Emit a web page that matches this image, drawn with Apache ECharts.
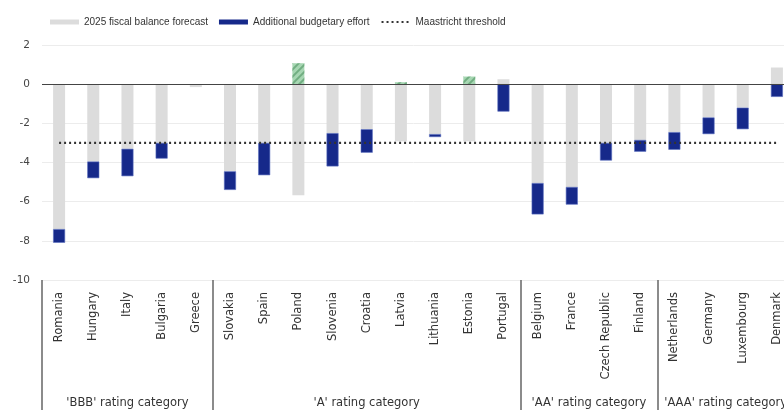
<!DOCTYPE html>
<html>
<head>
<meta charset="utf-8">
<script src="https://cdn.jsdelivr.net/npm/echarts@6/dist/echarts.min.js"></script>
<style>
html,body{margin:0;padding:0;background:#fff;}
#c{width:784px;height:410px;}
</style>
</head>
<body>
<div id="c"></div>
<script>
const countries = ['Romania','Hungary','Italy','Bulgaria','Greece','Slovakia','Spain','Poland','Slovenia','Croatia','Latvia','Lithuania','Estonia','Portugal','Belgium','France','Czech Republic','Finland','Netherlands','Germany','Luxembourg','Denmark'];
const forecast = [-7.4,-3.95,-3.3,-3.0,-0.15,-4.45,-3.0,-5.67,-2.5,-2.3,-2.92,-2.55,-2.92,0.25,-5.05,-5.25,-3.0,-2.85,-2.45,-1.7,-1.2,0.85];
const effort = [-0.7,-0.85,-1.4,-0.8,null,-0.95,-1.65,null,-1.7,-1.2,null,-0.15,null,-1.4,-1.6,-0.9,-0.9,-0.6,-0.9,-0.85,-1.1,-0.65];
const surplus = [null,null,null,null,null,null,null,1.07,null,null,0.1,null,0.39,null,null,null,null,null,null,null,null,null];
const threshold = countries.map(() => -3);
const groupNames = ["'BBB' rating category","'A' rating category","'AA' rating category","'AAA' rating category"];
const groupStarts = [0,5,14,18];
const groupEnds = [5,14,18,22];
const yTicks = {min:-10,max:2,interval:2};

const chart = echarts.init(document.getElementById('c'));
const font = 'DejaVu Sans, sans-serif';
const legendFont = 'Liberation Sans, Arial, sans-serif';
const option = {
  animation:false,
  textStyle:{fontFamily:font},
  legend:{
    top:12,left:45,itemGap:11,itemWidth:29,itemHeight:5,
    textStyle:{fontSize:10,color:'#333',fontFamily:legendFont},
    data:[
      {name:'2025 fiscal balance forecast',icon:'rect'},
      {name:'Additional budgetary effort',icon:'rect',itemStyle:{borderWidth:0}},
      {name:'Maastricht threshold',itemStyle:{opacity:0}}
    ]
  },
  grid:{left:42,width:752,top:45,height:235,outerBoundsMode:'none'},
  xAxis:{
    type:'category',data:countries,
    axisLine:{show:false,onZero:false},
    axisTick:{show:true,length:130,lineStyle:{color:'#666',width:1.5},
      interval:function(i){return groupStarts.indexOf(i)>=0;}},
    axisLabel:{rotate:90,fontSize:11.5,color:'#333',margin:12,interval:0,fontFamily:font}
  },
  yAxis:{
    type:'value',min:yTicks.min,max:yTicks.max,interval:yTicks.interval,
    axisLine:{show:false},axisTick:{show:false},
    axisLabel:{fontSize:10.5,color:'#444',margin:12,fontFamily:font},
    splitLine:{lineStyle:{color:'#ececec',width:1}}
  },
  series:[
    {name:'2025 fiscal balance forecast',type:'bar',stack:'s',barWidth:12,data:forecast,
     itemStyle:{color:'#dcdcdc'},
     markLine:{silent:true,symbol:'none',label:{show:false},
       lineStyle:{color:'#444',width:1.2,type:'solid'},data:[{yAxis:0}]}},
    {name:'Additional budgetary effort',type:'bar',stack:'s',barWidth:12,data:effort,
     itemStyle:{color:'#16298a',borderColor:'#5b6fc0',borderWidth:0.6}},
    {name:'surplus',type:'bar',stack:'s',barWidth:12,data:surplus,
     itemStyle:{color:'#a6d6b2',decal:{symbol:'rect',dashArrayX:[1,0],dashArrayY:[2,3],rotation:-Math.PI/4,color:'rgba(70,140,90,0.55)'}}},
    {name:'Maastricht threshold',type:'line',data:threshold,symbol:'none',
     itemStyle:{color:'#333'},
     lineStyle:{color:'#333',width:2.2,type:[2,3]},z:5}
  ]
};
chart.setOption(option);

const bw = chart.convertToPixel({xAxisIndex:0}, countries[1]) - chart.convertToPixel({xAxisIndex:0}, countries[0]);
const graphics = groupNames.map((n,i) => {
  const left = chart.convertToPixel({xAxisIndex:0}, countries[groupStarts[i]]) - bw/2;
  const right = left + bw*(groupEnds[i]-groupStarts[i]);
  return {type:'text',x:(left+right)/2,y:403,
    style:{text:n,fill:'#333',fontSize:11.5,fontFamily:font,align:'center',verticalAlign:'middle'}};
});
chart.setOption({graphic:graphics});
</script>
</body>
</html>
